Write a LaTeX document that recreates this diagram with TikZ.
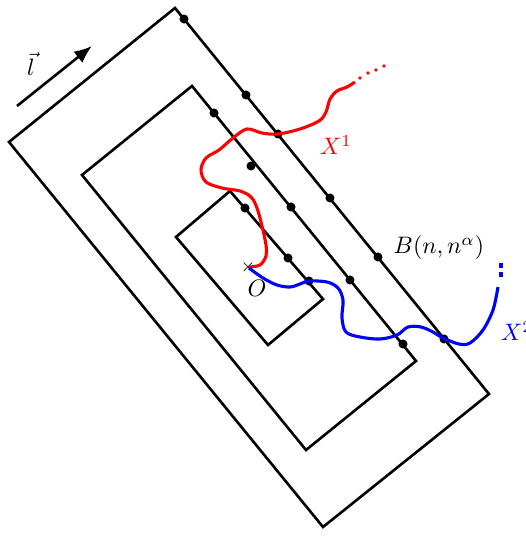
\documentclass[tikz,border=0pt]{standalone}
\usepackage{amsmath}
\usepackage{xcolor}
\usetikzlibrary{arrows.meta}

\begin{document}
\begin{tikzpicture}[
  x=0.42pt,y=-0.42pt,
  box/.style={line width=1.1pt,line join=miter},
  pt/.style={circle,fill=black,inner sep=0pt,minimum size=3.8pt},
  trail/.style={circle,inner sep=0pt,minimum size=1.6pt},
  walk/.style={line width=1.3pt,smooth,tension=0.55},
  dir/.style={-{Latex[length=7.5pt,width=6pt]},line width=1.1pt},
  lbl/.style={inner sep=1pt}
]
\useasboundingbox (0,0) rectangle (525,536);

% Boxes around O
\draw[box] (175,8) -- (489,394) -- (323,527) -- (9,142) -- cycle;
\draw[box] (192,86) -- (416,361) -- (306,450) -- (82,175) -- cycle;
\draw[box] (230,191) -- (323,299) -- (268,345) -- (176,237) -- cycle;

% Points on the boundaries
\foreach \x/\y [count=\k] in {184/19,246/95,278/134,330/198,378/257,444/339}
  \node[pt] (out\k) at (\x,\y) {};
\foreach \x/\y [count=\k] in {214/113,251/166,291/207,350/280,403/344}
  \node[pt] (mid\k) at (\x,\y) {};
\foreach \x/\y [count=\k] in {245/208,288/258,309/281}
  \node[pt] (in\k) at (\x,\y) {};

% Origin
\node[inner sep=0pt,font=\scriptsize] (orig) at (248,267) {$\times$};
\node[lbl] (olabel) at (257,288) {$O$};

% Walk X^1
\draw[walk,red] plot coordinates {(249,267) (260,265) (266,256) (266,245)
  (262,226) (257,208) (251,197) (240,191) (222,188) (206,182) (201,170)
  (206,158) (219,150) (233,138) (247,129) (262,133) (278,134) (300,129)
  (319,121) (326,112) (330,99) (337,91) (347,87) (355,82)};
\foreach \x/\y in {360/78,368/73,376/70,384/66}
  \node[trail,fill=red] at (\x,\y) {};
\node[lbl,text=red] (x1) at (336,145) {$X^1$};

% Walk X^2
\draw[walk,blue] plot coordinates {(249,268) (263,278) (277,285) (290,287)
  (300,284) (309,281) (327,282) (338,288) (343,300) (342,318) (346,332)
  (360,337) (380,339) (397,335) (408,327) (421,327) (433,332) (443,338)
  (459,344) (470,343) (483,330) (493,310) (498,287)};
\draw[blue,line width=1.3pt,dash pattern=on 2pt off 1.8pt] (501,263) -- (501,277);
\node[lbl,text=blue,anchor=west] (x2) at (498,331) {$X^2$};

% Box label
\node[lbl] (blabel) at (439,248) {$B(n,n^{\alpha})$};

% Direction l
\coordinate (ls) at (17,106);
\coordinate (le) at (92,46);
\draw[dir] (ls) -- (le);
\node[lbl] (llabel) at (31,64) {$\vec{l}$};
\end{tikzpicture}
\end{document}
